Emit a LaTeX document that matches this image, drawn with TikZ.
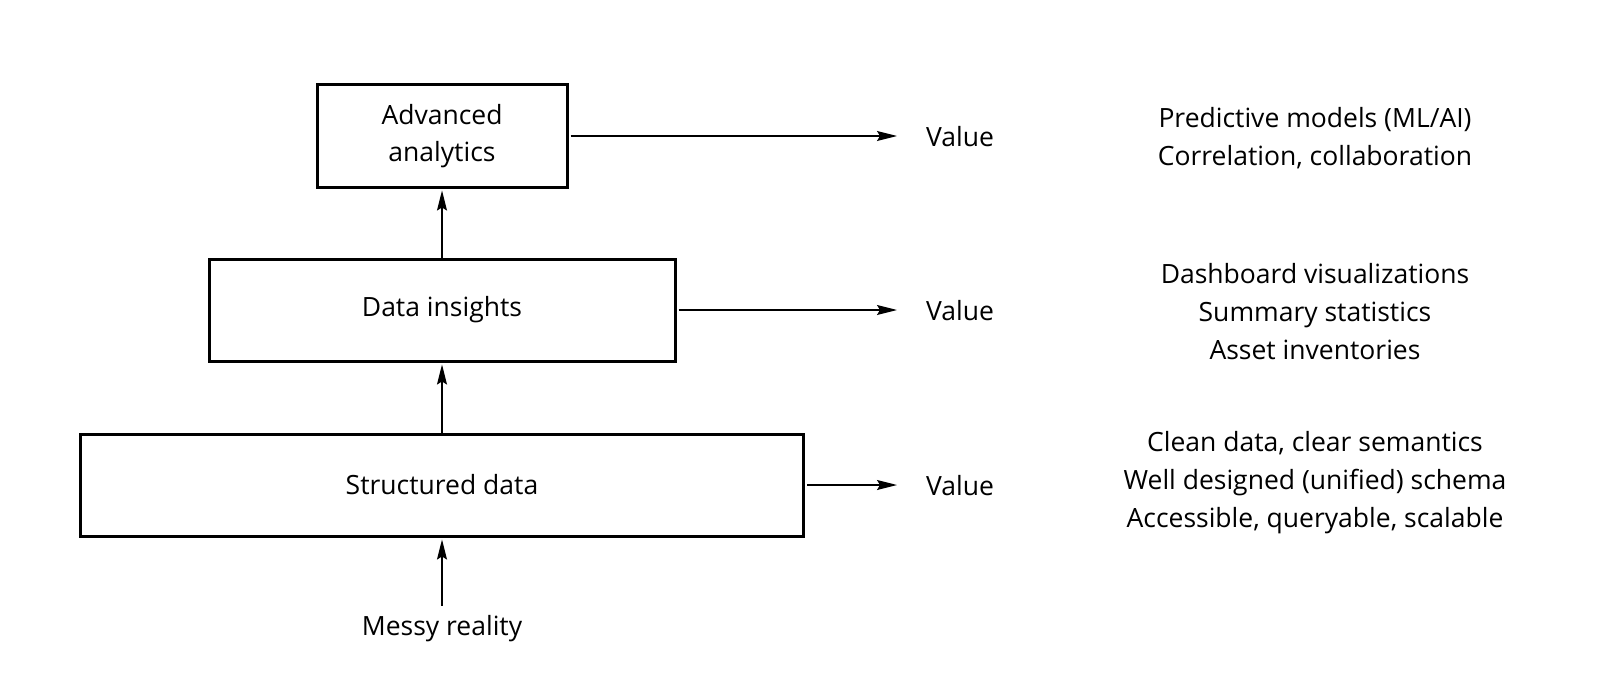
\documentclass[tikz,border=0pt]{standalone}
\usepackage{fontspec}
\setmainfont{Open Sans}
\usetikzlibrary{arrows.meta}
\begin{document}
\begin{tikzpicture}[x=1pt,y=-1pt,
  box/.style={draw,line width=3pt,minimum height=102pt,inner sep=0pt,align=center,font=\fontsize{26.5}{37}\selectfont},
  lbl/.style={inner sep=0pt,align=center,font=\fontsize{26.5}{38}\selectfont},
  arr/.style={line width=1.4pt,-{Stealth[length=20pt,width=10pt,inset=3pt]}}]
\useasboundingbox (0,0) rectangle (1600,682);
\node[box,minimum width=250pt] (adv) at (442,136) {Advanced\\analytics};
\node[box,minimum width=466pt] (ins) at (442,310) {Data insights};
\node[box,minimum width=723pt] (str) at (442,485) {Structured data};
\node[lbl] (messy) at (442,629) {Messy reality};
\node[lbl,anchor=west] (v1) at (926,137) {Value};
\node[lbl,anchor=west] (v2) at (926,311) {Value};
\node[lbl,anchor=west] (v3) at (926,486) {Value};
\coordinate (e1) at (897,136);
\coordinate (e2) at (897,310);
\coordinate (e3) at (897,485);
\node[lbl] (t1) at (1315,138) {Predictive models (ML/AI)\\Correlation, collaboration};
\node[lbl] (t2) at (1315,312) {Dashboard visualizations\\Summary statistics\\Asset inventories};
\node[lbl] (t3) at (1315,483) {Clean data, clear semantics\\Well designed (unified) schema\\Accessible, queryable, scalable};
\draw[arr] ([xshift=2pt]adv.east) -- (e1);
\draw[arr] ([xshift=2pt]ins.east) -- (e2);
\draw[arr] ([xshift=2pt]str.east) -- (e3);
\draw[arr] ([yshift=10pt]messy.north) -- ([yshift=-2pt]str.south);
\draw[arr] (str.north) -- ([yshift=-2pt]ins.south);
\draw[arr] (ins.north) -- ([yshift=-2pt]adv.south);
\end{tikzpicture}
\end{document}
